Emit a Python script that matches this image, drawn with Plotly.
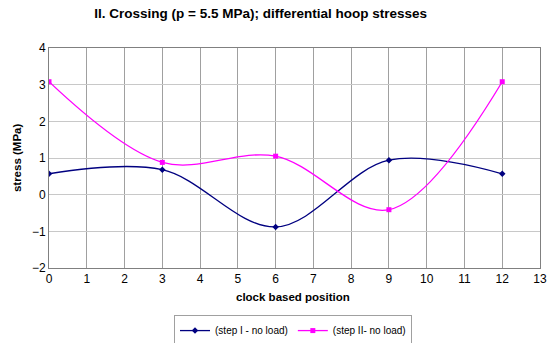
import plotly.graph_objects as go

positions = [0, 3, 6, 9, 12]
step1 = [0.57, 0.68, -0.88, 0.94, 0.57]
step2 = [3.08, 0.88, 1.05, -0.41, 3.08]
x_ticks = list(range(0, 14))
y_ticks = [-2, -1, 0, 1, 2, 3, 4]

fig = go.Figure()
fig.add_trace(go.Scatter(
    x=positions, y=step1, mode="lines+markers", name="(step I - no load)",
    line=dict(color="#000080", width=1.3, shape="spline", smoothing=1.0),
    marker=dict(symbol="diamond", size=5, color="#000080"),
))
fig.add_trace(go.Scatter(
    x=positions, y=step2, mode="lines+markers", name="(step II- no load)",
    line=dict(color="#FF00FF", width=1.3, shape="spline", smoothing=1.0),
    marker=dict(symbol="square", size=5, color="#FF00FF"),
))

fig.update_layout(
    width=550, height=343,
    margin=dict(l=49, r=10, t=48, b=75, autoexpand=False),
    paper_bgcolor="white", plot_bgcolor="white",
    font=dict(family="Liberation Sans, Arial, sans-serif", size=12, color="black"),
    title=dict(text="<b>II. Crossing (p = 5.5 MPa); differential hoop stresses</b>",
               x=0.474, xanchor="center", y=0.962, yanchor="middle",
               font=dict(size=13.5)),
    xaxis=dict(range=[0, 13], tickvals=x_ticks, showgrid=True, gridcolor="#a0a0a0",
               gridwidth=1, zeroline=False, showline=True, linecolor="#808080",
               mirror=True, ticks="", ticklen=0, automargin=False),
    yaxis=dict(range=[-2, 4], tickvals=y_ticks, showgrid=True, gridcolor="#c8c8c8",
               gridwidth=1, zeroline=False, showline=True, linecolor="#808080",
               mirror=True, ticks="", ticklen=0, automargin=False),
    legend=dict(orientation="h", x=0.497, xanchor="center", y=-0.214, yanchor="top",
                bordercolor="#a0a0a0", borderwidth=1, font=dict(size=10),
                itemwidth=30, tracegroupgap=0),
    showlegend=True,
    annotations=[
        dict(text="<b>clock based position</b>", xref="paper", yref="paper",
             x=0.497, y=-0.132, xanchor="center", yanchor="middle", showarrow=False,
             font=dict(size=11.5)),
        dict(text="<b>stress (MPa)</b>", xref="paper", yref="paper",
             x=-0.065, y=0.5, xanchor="center", yanchor="middle", showarrow=False,
             textangle=-90, font=dict(size=11.5)),
    ],
)

fig.write_html(
    "out.html",
    config={"displayModeBar": False},
    post_script="document.body.style.margin='0';document.body.style.overflow='hidden';",
)
